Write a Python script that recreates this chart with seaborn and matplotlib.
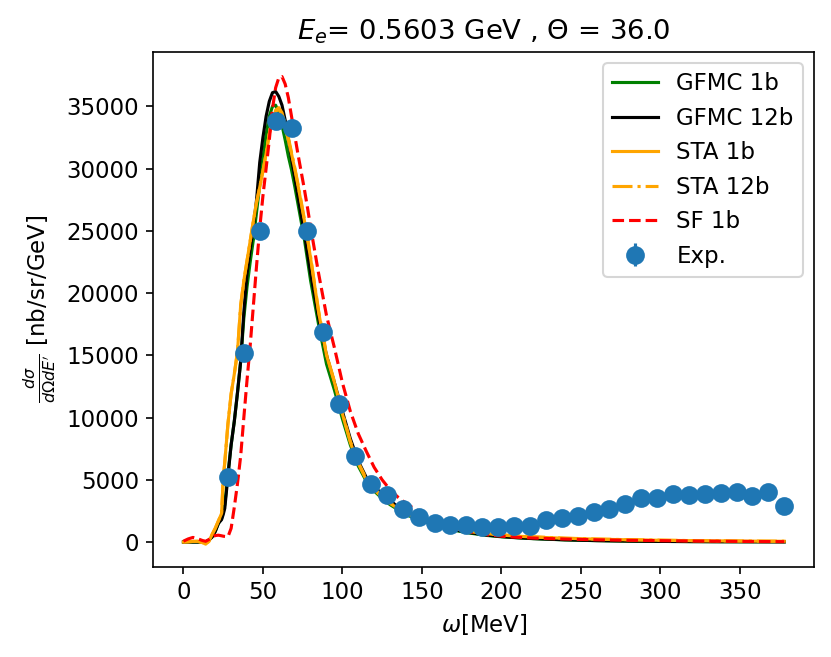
import numpy as np
import pandas as pd
import matplotlib
matplotlib.use("Agg")
import matplotlib.pyplot as plt
import seaborn as sns

plt.rcParams["font.size"] = 11

# ---------------- data ----------------
omega = [0, 3, 6, 9, 12, 14, 16, 18, 20, 22, 24, 25, 26, 28, 30, 32, 34, 36, 38, 40,
         42, 44, 46, 48, 50, 52, 54, 56, 58, 60, 62, 64, 66, 68, 70, 72, 74, 76, 78, 80,
         85, 90, 95, 100, 105, 110, 115, 120, 125, 130, 135, 140, 150, 160, 170, 180,
         190, 200, 210, 220, 240, 260, 280, 300, 320, 340, 360, 378]

gfmc_1b = [0, 0, 0, 0, 0, 20, 150, 400, 850, 1500, 1900, 2400, 3000, 5500, 7800, 9700,
           12000, 14500, 18000, 20500, 22500, 24300, 26500, 28700, 30800, 32700, 34200,
           35000, 35100, 34500, 33500, 32300, 31000, 29900, 28600, 27200, 25800, 24400,
           22700, 21000, 17500, 14300, 12200, 9900, 7800, 6100, 4900, 4100, 3500, 3000,
           2600, 2200, 1700, 1300, 950, 720, 540, 420, 340, 270, 170, 110, 70, 50, 35,
           25, 20, 15]

gfmc_12b = [0, 0, 0, 0, 0, 20, 150, 400, 850, 1500, 1800, 2200, 2700, 5300, 7800, 9700,
            12000, 14500, 18500, 21500, 23500, 25300, 27500, 30500, 32500, 34200, 35400,
            36100, 36200, 35800, 35100, 33900, 32400, 30800, 29300, 27800, 26300, 24900,
            23200, 21600, 18000, 15000, 12800, 10500, 8300, 6500, 5200, 4400, 3900, 3350,
            2800, 2400, 1800, 1350, 1000, 760, 570, 440, 350, 280, 180, 115, 75, 50, 35,
            25, 20, 15]

sta_1b = [0, 20, 50, 60, -50, -170, 50, 600, 1100, 1700, 2300, 5000, 6400, 9500, 11900,
          13500, 15300, 19000, 21000, 22600, 24200, 25800, 27300, 28500, 29800, 31200,
          32800, 34000, 34600, 34770, 34300, 33300, 32300, 31200, 30000, 28700, 27300,
          25900, 24400, 22800, 18500, 15000, 12800, 10300, 8000, 6300, 5000, 4200, 3600,
          3100, 2700, 2300, 1800, 1400, 1100, 850, 680, 560, 470, 400, 300, 230, 180,
          140, 110, 90, 70, 60]

sta_12b = [0, 20, 50, 60, -50, -170, 50, 600, 1100, 1700, 2300, 5000, 6400, 9500, 11900,
           13500, 15300, 19000, 21000, 22600, 24200, 25800, 27300, 28500, 29800, 31200,
           32800, 34000, 34700, 34900, 34500, 33500, 32500, 31300, 30100, 28800, 27400,
           26000, 24500, 22900, 18600, 15100, 12900, 10400, 8100, 6400, 5100, 4300, 3650,
           3150, 2750, 2350, 1850, 1450, 1150, 880, 700, 580, 490, 420, 310, 240, 190,
           150, 115, 95, 75, 65]

sf_1b = [70, 250, 370, 260, 120, 60, 200, 400, 520, 550, 500, 470, 450, 420, 1100, 2800,
         4700, 6900, 10000, 13000, 15800, 19000, 22200, 25200, 27800, 30000, 32300, 34800,
         36500, 37300, 37400, 36800, 35700, 34200, 32700, 31200, 29800, 28400, 26900,
         25300, 21600, 18200, 15600, 12800, 10500, 8700, 7300, 6000, 5000, 4200, 3600,
         3100, 2300, 1600, 1150, 800, 600, 470, 380, 320, 240, 180, 140, 110, 80, 60, 40, 30]

exp_omega = [28, 38, 48, 58, 68, 78, 88, 98, 108, 118, 128, 138, 148, 158, 168, 178,
             188, 198, 208, 218, 228, 238, 248, 258, 268, 278, 288, 298, 308, 318, 328,
             338, 348, 358, 368, 378]
exp_xs = [5200, 15150, 25000, 33800, 33300, 25000, 16900, 11100, 6950, 4700, 3800, 2680,
          2030, 1550, 1360, 1360, 1180, 1180, 1300, 1300, 1740, 1900, 2080, 2430, 2670,
          3020, 3530, 3530, 3850, 3790, 3850, 3900, 3990, 3690, 4030, 2890]
exp_err = [150, 300, 500, 650, 650, 500, 350, 230, 150, 110, 90, 70, 60, 50, 45, 45,
           40, 40, 45, 45, 55, 60, 65, 75, 80, 90, 100, 100, 110, 110, 110, 110, 115,
           110, 115, 90]

series = [
    ("GFMC 1b", gfmc_1b, "green", "-"),
    ("GFMC 12b", gfmc_12b, "black", "-"),
    ("STA 1b", sta_1b, "orange", "-"),
    ("STA 12b", sta_12b, "orange", "-."),
    ("SF 1b", sf_1b, "red", "--"),
]

# ---------------- plot ----------------
fig = plt.figure(figsize=(8.31 / 1.5, 6.57 / 1.5), dpi=150)
ax = fig.add_axes([0.1846, 0.1377, 0.9799 - 0.1846, 0.9213 - 0.1377])

for name, vals, col, ls in series:
    df = pd.DataFrame({"omega": omega, "xs": vals})
    sns.lineplot(data=df, x="omega", y="xs", color=col, linestyle=ls,
                 linewidth=1.5, label=name, ax=ax, estimator=None, sort=False)

ax.errorbar(exp_omega, exp_xs, yerr=exp_err, fmt="o", color="C0",
            markersize=8, label="Exp.")

ax.set_xlim(-18.9, 396.9)
ax.set_ylim(-1969, 39395)
ax.set_xticks([0, 50, 100, 150, 200, 250, 300, 350])
ax.set_yticks([0, 5000, 10000, 15000, 20000, 25000, 30000, 35000])
ax.set_xlabel(r"$\omega$[MeV]")
ax.set_ylabel(r"$\frac{d\sigma}{d\Omega dE^{\prime}}$ [nb/sr/GeV]")
ax.set_title(r"$E_e$= 0.5603 GeV , $\Theta$ = 36.0")
ax.legend(loc="upper right")

fig.savefig("out.png", dpi=150)
